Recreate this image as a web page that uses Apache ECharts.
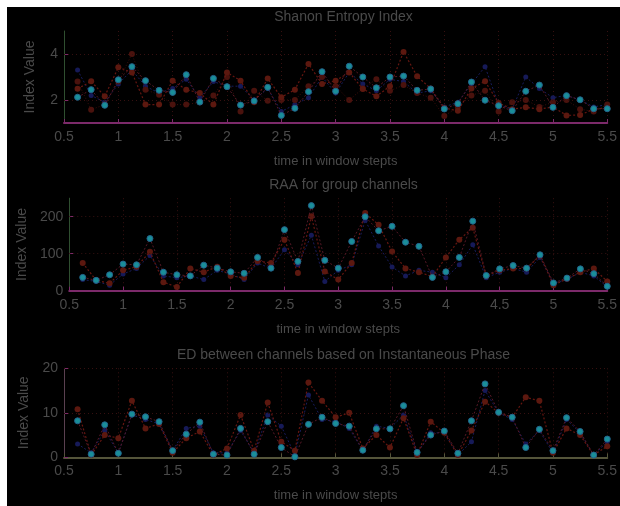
<!DOCTYPE html>
<html>
<head>
<meta charset="utf-8">
<script src="https://cdn.jsdelivr.net/npm/echarts@6/dist/echarts.min.js"></script>
<style>
html,body{margin:0;padding:0;background:#fff;}
#c{position:absolute;left:7px;top:7px;width:613px;height:499px;background:#000;}
</style>
</head>
<body>
<div id="c"></div>
<script>
// x positions (window steps)
var steps = [0.625,0.75,0.875,1,1.125,1.25,1.375,1.5,1.625,1.75,1.875,2,2.125,2.25,2.375,2.5,2.625,2.75,2.875,3,3.125,3.25,3.375,3.5,3.625,3.75,3.875,4,4.125,4.25,4.375,4.5,4.625,4.75,4.875,5,5.125,5.25,5.375,5.5];

var titles = ['Shanon Entropy Index','RAA for group channels','ED between channels based on Instantaneous Phase'];
var xName = 'time in window stepts';
var yName = 'Index Value';

// Plot 1: Shanon Entropy Index
var se_cyan = [2.12,2.45,1.77,2.88,3.45,2.84,2.42,2.33,3.1,1.91,2.94,2.58,1.78,1.96,2.55,1.33,1.64,2.36,3.23,2.38,3.47,3.0,2.53,3.0,3.04,2.42,2.48,1.61,1.84,2.78,1.99,1.75,1.53,2.38,2.65,1.68,2.19,2.01,1.62,1.62];
var se_red  = [2.49,2.81,2.16,3.42,3.2,1.8,1.8,2.84,2.45,2.3,1.8,3.2,2.84,1.9,2.93,2.12,2.45,3.57,2.7,2.84,3.2,2.48,2.16,2.6,4.09,3.03,2.5,1.65,1.53,2.5,2.81,1.87,1.6,1.68,1.6,1.7,1.33,1.35,1.6,1.65];
var se_red2 = [2.8,1.58,1.8,2.8,4.0,2.45,2.23,1.8,1.8,1.9,2.2,3.0,1.5,2.4,1.97,2.0,2.0,2.6,3.0,2.6,2.0,2.5,2.9,2.4,2.65,2.3,2.1,1.3,1.7,2.2,2.4,1.5,1.9,2.0,1.7,1.9,2.0,1.6,1.5,1.8];
var se_navy = [3.3,2.2,1.9,2.7,3.3,2.6,2.3,2.5,2.9,2.1,2.8,2.6,2.6,2.0,2.5,1.5,1.8,2.1,3.0,2.3,3.2,2.7,2.4,2.9,2.8,2.3,2.4,1.7,1.9,2.7,3.45,1.8,1.6,3.0,2.5,2.1,2.2,2.0,1.7,1.8];

// Plot 2: RAA for group channels
var raa_cyan = [36,28,43,72,70,141,50,43,40,69,61,51,47,90,61,165,79,230,82,61,133,200,162,174,131,120,36,51,90,188,41,59,68,61,97,21,34,59,46,12];
var raa_red  = [75,28,20,55,65,105,23,10,60,50,65,40,35,80,75,138,48,201,52,30,75,210,178,106,60,50,38,90,138,170,40,55,60,60,95,15,32,50,60,25];
var raa_navy = [30,25,15,45,60,95,40,35,40,30,55,45,30,75,60,111,70,150,25,55,70,190,121,64,40,55,50,35,70,124,35,50,60,50,90,20,30,50,40,10];

// Plot 3: ED between channels based on Instantaneous Phase
var ed_cyan = [8.2,0.7,7.3,0.9,9.7,9.1,8.0,1.5,5.2,7.9,0.7,0.5,6.5,0.7,8.0,2.2,0.1,7.4,9.0,7.6,7.0,1.6,6.4,6.4,11.6,1.1,5.0,5.9,0.9,8.2,16.5,10.1,9.0,2.2,6.3,1.5,8.9,5.8,0.5,4.1];
var ed_red  = [10.8,0.5,5.0,4.3,12.7,6.5,7.5,1.0,4.3,5.8,0.5,2.0,9.5,1.5,12.3,3.5,1.5,16.8,12.7,9.0,10.0,2.0,5.0,2.2,8.8,0.5,8.0,5.5,0.5,6.0,12.5,10.0,9.0,13.5,12.7,1.0,6.5,5.0,0.5,2.5];
var ed_navy = [3.0,1.0,6.0,1.0,9.5,8.5,7.5,1.5,6.5,7.0,1.0,1.0,6.0,1.0,9.5,7.0,0.5,14.0,8.5,8.0,6.5,1.5,7.0,6.5,9.5,1.0,5.5,5.5,0.5,3.5,15.0,10.0,8.5,3.0,6.0,1.0,8.5,5.5,0.5,3.5];

// y axis settings per plot
var yMin = [1,0,0], yMax = [5,250,20], yInt = [1,50,10];
var yTicks = [[2,4],[0,100,200],[0,10,20]];

function pair(vals){ return steps.map(function(x,i){ return [x, vals[i]]; }); }

var FONT = 'Liberation Sans';
var LABEL = '#4a4a4a';
var GRID = '#361010';

var grids = [
  {left:57, top:24, width:549, height:92},
  {left:57, top:191.2, width:549, height:92.5},
  {left:57, top:361.3, width:549, height:89}
];
var titleTops = [-2,166,336];
var xLineColors = ['#7c2a6a','#7c2a6a','#55553a'];
var yLineColors = ['#2f4f30','#2f4f30','#5a4050'];

var option = {
  backgroundColor:'#000',
  animation:false,
  title: titles.map(function(t,i){ return {text:t, left:331.5, top:titleTops[i], textAlign:'center',
     textStyle:{color:LABEL, fontFamily:FONT, fontSize:14, fontWeight:'normal'}}; }),
  grid: grids,
  xAxis: grids.map(function(g,i){ return {
    type:'value', gridIndex:i, min:0.5, max:5.5, interval:0.5,
    name:xName, nameLocation:'middle', nameGap:32,
    nameTextStyle:{color:LABEL, fontFamily:FONT, fontSize:13},
    axisLine:{onZero:false, lineStyle:{color:xLineColors[i], width:2}},
    axisTick:{inside:true, length:4, lineStyle:{color:xLineColors[i]}},
    axisLabel:{color:LABEL, fontFamily:FONT, fontSize:14, margin:7},
    splitLine:{show:true, lineStyle:{color:GRID, type:[1,3], width:1}}
  }; }),
  yAxis: grids.map(function(g,i){ return {
    type:'value', gridIndex:i, min:yMin[i], max:yMax[i], interval:yInt[i],
    name:yName, nameLocation:'middle', nameGap:27,
    nameTextStyle:{color:LABEL, fontFamily:FONT, fontSize:14},
    axisLine:{show:true, lineStyle:{color:yLineColors[i], width:1}},
    axisTick:{show:true, inside:true, length:4, customValues:yTicks[i], lineStyle:{color:'#7c2a6a'}},
    axisLabel:{color:LABEL, fontFamily:FONT, fontSize:14, margin:6, customValues:yTicks[i],
      formatter:function(v){ return yTicks[i].indexOf(v) >= 0 ? String(v) : ''; }},
    splitLine:{show:false}
  }; }),
  series: []
};

var sets = [
  {cyan:se_cyan, red:se_red, red2:se_red2, navy:se_navy},
  {cyan:raa_cyan, red:raa_red, navy:raa_navy},
  {cyan:ed_cyan, red:ed_red, navy:ed_navy}
];

sets.forEach(function(s,i){
  var gridLines = yTicks[i].filter(function(v){ return v !== yMin[i]; }).map(function(v){ return {yAxis:v}; });
  option.series.push({type:'line', xAxisIndex:i, yAxisIndex:i, data:pair(s.navy), symbol:'circle', symbolSize:5,
    itemStyle:{color:'#161a58'}, lineStyle:{color:'#181c5c', width:1, type:[2,2]}, z:2,
    markLine:{silent:true, symbol:'none', label:{show:false}, lineStyle:{color:GRID, type:[1,3], width:1}, data:gridLines}});
  if (s.red2) option.series.push({type:'line', xAxisIndex:i, yAxisIndex:i, data:pair(s.red2), symbol:'circle', symbolSize:6,
    itemStyle:{color:'#4a120d'}, lineStyle:{color:'#3e0e0c', width:1, type:[1,2]}, z:3});
  option.series.push({type:'line', xAxisIndex:i, yAxisIndex:i, data:pair(s.red), symbol:'circle', symbolSize:6,
    itemStyle:{color:'#5c180f'}, lineStyle:{color:'#661610', width:1.2, type:[2,2]}, z:4});
  option.series.push({type:'line', xAxisIndex:i, yAxisIndex:i, data:pair(s.cyan), symbol:'circle', symbolSize:6,
    itemStyle:{color:'#1a8e99', borderColor:'#22648c', borderWidth:1}, lineStyle:{color:'#561826', width:1, type:[2,2]}, z:5});
});

var chart = echarts.init(document.getElementById('c'));
chart.setOption(option);
</script>
</body>
</html>
